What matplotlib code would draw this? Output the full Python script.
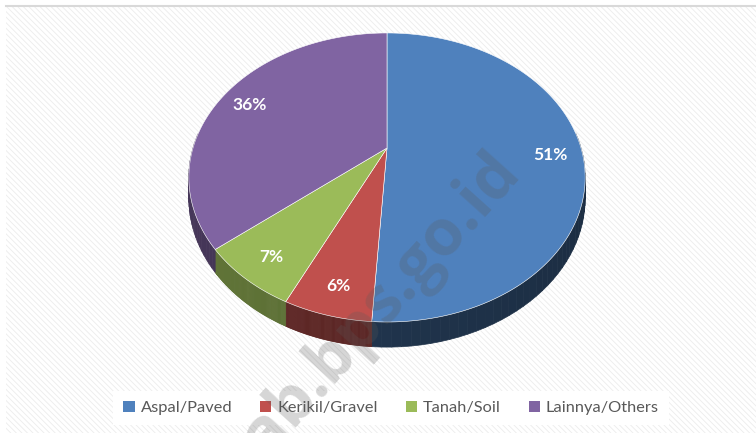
import numpy as np
import matplotlib.pyplot as plt
from matplotlib.patches import Polygon, Rectangle, Patch
from matplotlib.colors import to_rgb

categories = ["Aspal/Paved", "Kerikil/Gravel", "Tanah/Soil", "Lainnya/Others"]
values = [51, 6, 7, 36]
colors = ["#4F81BD", "#C0504D", "#9BBB59", "#8064A2"]
side_shade = [0.40, 0.47, 0.58, 0.50]

# perspective pie geometry (pixels)
CX, CY = 387, 148
A, B, K = 194, 138.5, 0.204
D0 = 20

def proj(u, v):
    den = 1 - K * v
    return CX + A * u / den, CY + B * v / den

def rim(phi, r=1.0):
    u = r * np.sin(phi)
    v = -r * np.cos(phi)
    return proj(u, v)

fig = plt.figure(figsize=(7.56, 4.33), dpi=100)
ax = fig.add_axes([0, 0, 1, 1])
ax.set_xlim(0, 756)
ax.set_ylim(433, 0)
ax.axis("off")

plt.rcParams["hatch.linewidth"] = 0.6
ax.add_patch(Rectangle((6, 6), 750, 427, facecolor="white", edgecolor="#ececec",
                       hatch="\\\\\\\\\\\\", lw=0, zorder=0))
ax.plot([6, 756], [6, 6], color="#d9d9d9", lw=1.5, zorder=1)

total = sum(values)
bounds = np.concatenate([[0], np.cumsum(values)]) / total * 2 * np.pi

# side walls first
for i, c in enumerate(colors):
    phis = np.linspace(bounds[i], bounds[i + 1], 80)
    base = np.array(to_rgb(c))
    for p0, p1 in zip(phis[:-1], phis[1:]):
        v0, v1 = -np.cos(p0), -np.cos(p1)
        if max(v0, v1) < -0.1:
            continue
        x0, y0 = rim(p0)
        x1, y1 = rim(p1)
        d0 = D0 / (1 - K * v0)
        d1 = D0 / (1 - K * v1)
        u = np.sin((p0 + p1) / 2)
        f = side_shade[i] - 0.05 * u
        col = np.clip(base * f, 0, 1)
        ax.add_patch(Polygon([(x0, y0), (x1, y1), (x1, y1 + d1), (x0, y0 + d0)],
                             closed=True, facecolor=col, edgecolor=col,
                             lw=0.5, zorder=2))

# top faces
for i, c in enumerate(colors):
    phis = np.linspace(bounds[i], bounds[i + 1], 200)
    pts = [proj(0, 0)] + [rim(p) for p in phis]
    ax.add_patch(Polygon(pts, closed=True, facecolor=c, edgecolor="white",
                         lw=0.4, zorder=3))

# data labels
for i, val in enumerate(values):
    mid = (bounds[i] + bounds[i + 1]) / 2
    x, y = rim(mid, 0.84)
    ax.text(x, y + 3, f"{val}%", color="white", fontsize=12.5, fontweight="bold",
            family="Lato", ha="center", va="center", zorder=5)

# watermark
ax.text(368, 318, "kab.bps.go.id", rotation=48, fontsize=46, fontweight="bold",
        family="Open Sans", color="#5a5a5a", alpha=0.25, ha="center", va="center",
        zorder=6)

handles = [Patch(facecolor=c, edgecolor="none") for c in colors]
leg = ax.legend(handles, categories, ncol=4, loc="center",
                bbox_to_anchor=(391 / 756, 1 - 408 / 433),
                frameon=True, fancybox=False, framealpha=1, edgecolor="none",
                facecolor="white", handlelength=0.7,
                handleheight=0.7, handletextpad=0.35, columnspacing=1.7,
                borderpad=0.6, prop={"family": "Lato", "size": 11.8})
for t in leg.get_texts():
    t.set_color("#595959")
leg.set_zorder(4)

fig.savefig("out.png", dpi=100)
